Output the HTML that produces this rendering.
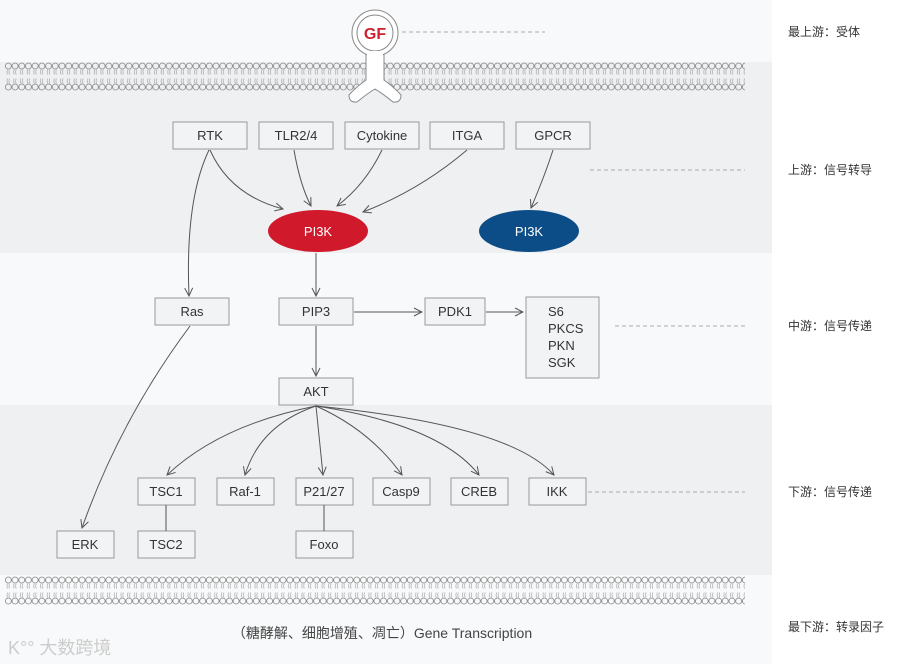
<!DOCTYPE html>
<html><head><meta charset="utf-8"><style>
body{margin:0;width:900px;height:664px;overflow:hidden;background:#fff}
svg{display:block}
text{font-family:"Liberation Sans","Noto Sans CJK SC",sans-serif}
</style></head><body>
<svg width="900" height="664" viewBox="0 0 900 664" xmlns="http://www.w3.org/2000/svg">
<defs>
<pattern id="mem" x="5" y="0" width="6.7" height="30" patternUnits="userSpaceOnUse">
<circle cx="3.35" cy="4" r="3" fill="none" stroke="#888" stroke-width="0.8"/>
<path d="M2.5 7.5 q-1 2.5 0 5 M4.5 7.5 q-1 2.5 0 5 M2.5 16.5 q-1 2.5 0 5 M4.5 16.5 q-1 2.5 0 5" fill="none" stroke="#999" stroke-width="0.6"/>
<circle cx="3.35" cy="25" r="3" fill="none" stroke="#888" stroke-width="0.8"/>
</pattern>
<marker id="ar" markerWidth="10" markerHeight="10" refX="9" refY="5" orient="auto" markerUnits="userSpaceOnUse">
<path d="M1 1 L9 5 L1 9" fill="none" stroke="#555" stroke-width="1"/>
</marker>
</defs>
<rect x="0" y="0" width="772" height="664" fill="#f8f9fa"/>
<rect x="0" y="62" width="772" height="191" fill="#eef0f2"/>
<rect x="0" y="405" width="772" height="170" fill="#eef0f2"/>
<g transform="translate(0,62)"><rect x="5" y="0" width="740" height="30" fill="url(#mem)"/></g>
<g transform="translate(0,576)"><rect x="5" y="0" width="740" height="30" fill="url(#mem)"/></g>
<!-- receptor -->
<path d="M366 52 L366 80 Q355 88 349 95 Q349 103 357 102 Q368 93 375 89 Q382 93 393 102 Q401 103 401 95 Q395 88 384 80 L384 52 Z" fill="#fff" stroke="#888" stroke-width="1"/>
<circle cx="375" cy="33" r="23" fill="#fff" stroke="#888" stroke-width="1"/>
<circle cx="375" cy="33" r="18" fill="#fff" stroke="#888" stroke-width="1"/>
<rect x="367" y="51" width="16" height="6" fill="#fff"/>
<text x="375" y="39" font-size="16" font-weight="bold" fill="#d0202e" text-anchor="middle">GF</text>
<g stroke="#aaa" stroke-dasharray="4 3" stroke-width="1">
<line x1="402" y1="32" x2="545" y2="32"/>
<line x1="590" y1="170" x2="745" y2="170"/>
<line x1="615" y1="326" x2="745" y2="326"/>
<line x1="588" y1="492" x2="745" y2="492"/>
</g>
<g font-size="12" fill="#333">
<text x="788" y="36">最上游：受体</text>
<text x="788" y="174">上游：信号转导</text>
<text x="788" y="330">中游：信号传递</text>
<text x="788" y="496">下游：信号传递</text>
<text x="788" y="631">最下游：转录因子</text>
</g>
<text x="382" y="638" font-size="14" fill="#444" text-anchor="middle">（糖酵解、细胞增殖、凋亡）Gene Transcription</text>
<text x="8" y="654" font-size="18" fill="#ccc">K°° 大数跨境</text>
<g fill="#f2f3f5" stroke="#999" stroke-width="1">
<rect x="173" y="122" width="74" height="27"/><rect x="259" y="122" width="74" height="27"/>
<rect x="345" y="122" width="74" height="27"/><rect x="430" y="122" width="74" height="27"/>
<rect x="516" y="122" width="74" height="27"/>
<rect x="155" y="298" width="74" height="27"/><rect x="279" y="298" width="74" height="27"/>
<rect x="425" y="298" width="60" height="27"/><rect x="526" y="297" width="73" height="81"/>
<rect x="279" y="378" width="74" height="27"/>
<rect x="138" y="478" width="57" height="27"/><rect x="217" y="478" width="57" height="27"/>
<rect x="296" y="478" width="57" height="27"/><rect x="373" y="478" width="57" height="27"/>
<rect x="451" y="478" width="57" height="27"/><rect x="529" y="478" width="57" height="27"/>
<rect x="138" y="531" width="57" height="27"/><rect x="296" y="531" width="57" height="27"/>
<rect x="57" y="531" width="57" height="27"/>
</g>
<g font-size="13" fill="#333" text-anchor="middle">
<text x="210" y="140">RTK</text><text x="296" y="140">TLR2/4</text><text x="382" y="140">Cytokine</text>
<text x="467" y="140">ITGA</text><text x="553" y="140">GPCR</text>
<text x="192" y="316">Ras</text><text x="316" y="316">PIP3</text><text x="455" y="316">PDK1</text>
<text x="316" y="396">AKT</text>
<text x="166" y="496">TSC1</text><text x="245" y="496">Raf-1</text><text x="324" y="496">P21/27</text>
<text x="401" y="496">Casp9</text><text x="479" y="496">CREB</text><text x="557" y="496">IKK</text>
<text x="166" y="549">TSC2</text><text x="324" y="549">Foxo</text><text x="85" y="549">ERK</text>
</g>
<g font-size="13" fill="#333"><text x="548" y="316">S6</text><text x="548" y="333">PKCS</text><text x="548" y="350">PKN</text><text x="548" y="367">SGK</text></g>
<ellipse cx="318" cy="231" rx="50" ry="21" fill="#d0192b"/>
<ellipse cx="529" cy="231" rx="50" ry="21" fill="#0d4d87"/>
<text x="318" y="236" font-size="13" fill="#fff" text-anchor="middle">PI3K</text>
<text x="529" y="236" font-size="13" fill="#fff" text-anchor="middle">PI3K</text>
<g fill="none" stroke="#555" stroke-width="1" marker-end="url(#ar)">
<path d="M210 150 Q230 195 283 209"/>
<path d="M294 150 Q300 185 311 206"/>
<path d="M382 150 Q365 185 337 206"/>
<path d="M467 150 Q420 190 363 212"/>
<path d="M553 150 Q545 175 531 208"/>
<path d="M209 150 Q185 200 189 296"/>
<path d="M316 253 L316 296"/>
<path d="M354 312 L422 312"/>
<path d="M486 312 L523 312"/>
<path d="M316 326 L316 376"/>
<path d="M190 326 Q120 420 82 528"/>
<path d="M316 406 Q220 425 167 475"/>
<path d="M316 406 Q260 425 245 475"/>
<path d="M316 406 L323 475"/>
<path d="M316 406 Q370 430 402 475"/>
<path d="M316 406 Q440 425 479 475"/>
<path d="M316 406 Q510 425 554 475"/>
</g>
<g stroke="#555" stroke-width="1"><line x1="166" y1="505" x2="166" y2="531"/><line x1="324" y1="505" x2="324" y2="531"/></g>
</svg>
</body></html>
